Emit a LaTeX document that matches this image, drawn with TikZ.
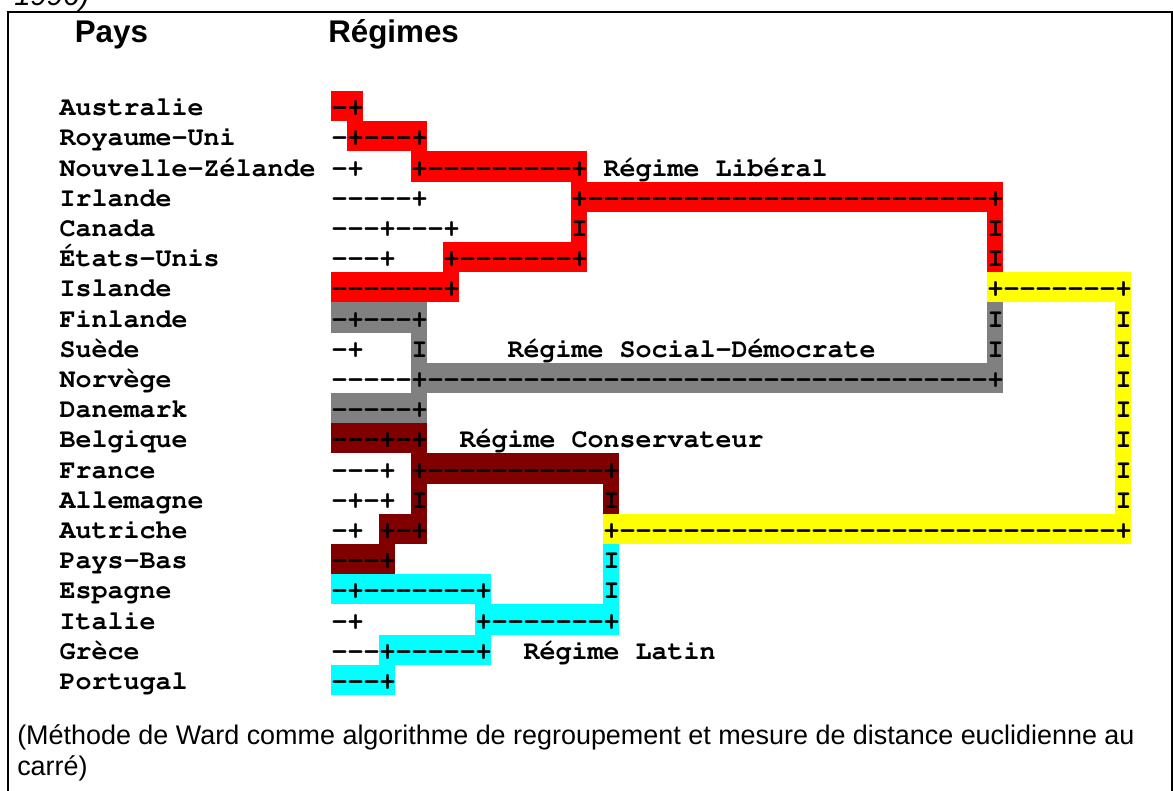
\documentclass[tikz,border=0pt]{standalone}
\usepackage{fontspec}
\setmainfont{Liberation Sans}
\usepackage{tikz}
\usetikzlibrary{positioning}

\definecolor{liberal}{HTML}{FF0000}
\definecolor{socdem}{HTML}{808080}
\definecolor{conserv}{HTML}{800000}
\definecolor{latin}{HTML}{00FFFF}
\definecolor{jaune}{HTML}{FFFF00}

\newcommand{\courgras}{\fontencoding{T1}\fontfamily{pcr}\fontseries{b}\fontshape{n}\fontsize{20}{24}\selectfont}

% tirets sans ligature
\ExplSyntaxOn
\NewDocumentCommand{\tirets}{m}
  {
    \tl_set:No \l_tmpa_tl {#1}
    \tl_replace_all:Nnn \l_tmpa_tl {-} {-\kern0pt}
    \tl_use:N \l_tmpa_tl
  }
\ExplSyntaxOff

\tikzset{
  ascii/.style={anchor=base west, inner sep=0pt, font=\courgras},
  entete/.style={anchor=base west, inner sep=0pt, font=\bfseries\fontsize{23.5}{28}\selectfont},
  legende/.style={anchor=base west, inner sep=0pt, font=\fontsize{20.2}{24}\selectfont}
}

\begin{document}
\begin{tikzpicture}[x=0.75pt,y=-0.75pt]

\useasboundingbox (0,0) rectangle (1173,790);

\node[anchor=base west, inner sep=0pt, font=\itshape\fontsize{22}{26}\selectfont] (source) at (14,5.5) {1996)}; % titre coupe

\draw[line width=1.5pt] (8.4,11.7) rectangle (1171.5,805); % cadre

\node[entete] (pays) at (74.5,42.7) {Pays};
\node[entete] (regimes) at (328,42.7) {Régimes};

\begin{scope}[shift={(331.3,91)}, x=12pt, y=-22.65pt]

% bandes de couleur
\fill[liberal] (0,0) rectangle (2,1);
\fill[liberal] (1,1) rectangle (6,2);
\fill[liberal] (5,2) rectangle (16,3);
\fill[liberal] (15,3) rectangle (42,4);
\fill[liberal] (15,4) rectangle (16,5);
\fill[liberal] (41,4) rectangle (42,6);
\fill[liberal] (7,5) rectangle (16,6);
\fill[liberal] (0,6) rectangle (8,7);

\fill[jaune] (41,6) rectangle (50,7);
\fill[jaune] (49,7) rectangle (50,14);
\fill[jaune] (17,14) rectangle (50,15);

\fill[socdem] (0,7) rectangle (6,8);
\fill[socdem] (41,7) rectangle (42,9);
\fill[socdem] (5,8) rectangle (6,9);
\fill[socdem] (5,9) rectangle (42,10);
\fill[socdem] (0,10) rectangle (6,11);

\fill[conserv] (0,11) rectangle (6,12);
\fill[conserv] (5,12) rectangle (18,13);
\fill[conserv] (5,13) rectangle (6,14);
\fill[conserv] (17,13) rectangle (18,14);
\fill[conserv] (3,14) rectangle (6,15);
\fill[conserv] (0,15) rectangle (4,16);

\fill[latin] (17,15) rectangle (18,17);
\fill[latin] (0,16) rectangle (10,17);
\fill[latin] (9,17) rectangle (18,18);
\fill[latin] (3,18) rectangle (10,19);
\fill[latin] (0,19) rectangle (4,20);

% noms des pays
\foreach \r/\nom in {0/Australie, 1/Royaume-Uni, 2/Nouvelle-Zélande, 3/Irlande,
  4/Canada, 5/États-Unis, 6/Islande, 7/Finlande, 8/Suède, 9/Norvège,
  10/Danemark, 11/Belgique, 12/France, 13/Allemagne, 14/Autriche,
  15/Pays-Bas, 16/Espagne, 17/Italie, 18/Grèce, 19/Portugal}
  \node[ascii] (pays\r) at (-17,\r+.82) {\nom};

% dendrogramme
\foreach \r/\c/\s in {
  0/0/-+,
  1/0/-+---+,
  2/0/-+, 2/5/+---------+, 2/17/Régime Libéral,
  3/0/-----+, 3/15/+-------------------------+,
  4/0/---+---+, 4/15/I, 4/41/I,
  5/0/---+, 5/7/+-------+, 5/41/I,
  6/0/-------+, 6/41/+-------+,
  7/0/-+---+, 7/41/I, 7/49/I,
  8/0/-+, 8/5/I, 8/11/Régime Social-Démocrate, 8/41/I, 8/49/I,
  9/0/-----+-----------------------------------+, 9/49/I,
  10/0/-----+, 10/49/I,
  11/0/---+-+, 11/8/Régime Conservateur, 11/49/I,
  12/0/---+, 12/5/+-----------+, 12/49/I,
  13/0/-+-+, 13/5/I, 13/17/I, 13/49/I,
  14/0/-+, 14/3/+-+, 14/17/+-------------------------------+,
  15/0/---+, 15/17/I,
  16/0/-+-------+, 16/17/I,
  17/0/-+, 17/9/+-------+,
  18/0/---+-----+, 18/12/Régime Latin,
  19/0/---+}
  \node[ascii] (seg\r-\c) at (\c,\r+.82) {\tirets{\s}};

\end{scope}

% methode
\node[legende] (methode) at (17,744) {(Méthode de Ward comme algorithme de regroupement et mesure de distance euclidienne au};
\node[legende] (carre) at (17,775) {carré)};

\end{tikzpicture}
\end{document}
